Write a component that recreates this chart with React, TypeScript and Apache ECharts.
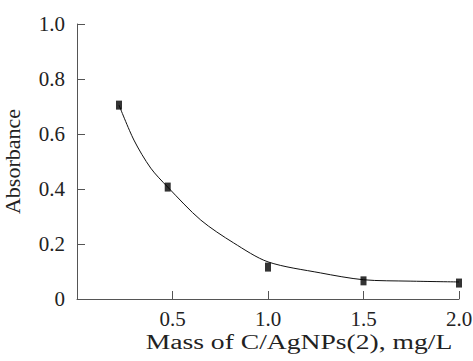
import React, { useEffect, useRef } from "react";
import * as echarts from "echarts";

// measured points (markers)
const massValues = [0.22, 0.475, 1.0, 1.5, 2.0];
const absorbanceValues = [0.705, 0.407, 0.116, 0.066, 0.058];
// fitted curve
const curveMass = [0.22, 0.298, 0.386, 0.475, 0.648, 0.82, 1.0, 1.274, 1.5, 1.744, 2.0];
const curveAbsorbance = [0.705, 0.578, 0.476, 0.407, 0.287, 0.204, 0.135, 0.095, 0.07, 0.065, 0.062];
const xTicks = [0.5, 1.0, 1.5, 2.0];
const yTicks = [0, 0.2, 0.4, 0.6, 0.8, 1.0];
const xTitle = "Mass of C/AgNPs(2), mg/L";
const yTitle = "Absorbance";

export default function App() {
  const ref = useRef<HTMLDivElement>(null);
  useEffect(() => {
    if (!ref.current) return;
    const chart = echarts.init(ref.current, null, { renderer: "svg" });
    const pts = massValues.map((x, i) => [x, absorbanceValues[i]]);
    const curve = curveMass.map((x, i) => [x, curveAbsorbance[i]]);
    const font = "'Liberation Serif', 'Times New Roman', serif";
    chart.setOption({
      animation: false,
      backgroundColor: "#fff",
      grid: { left: 77, right: 14, top: 24, bottom: 62, outerBoundsMode: "none", containLabel: false },
      graphic: [
        {
          type: "text",
          x: 299,
          y: 342,
          scaleX: 1.38,
          style: {
            text: xTitle,
            fontFamily: font,
            fontSize: 20,
            fill: "#222",
            align: "center",
            verticalAlign: "middle",
          },
        },
      ],
      xAxis: {
        type: "value",
        min: 0,
        max: 2,
        interval: 0.5,
        axisLine: { show: true, lineStyle: { color: "#555", width: 1 } },
        axisTick: { show: true, inside: true, length: 8, lineStyle: { color: "#555" } },
        axisLabel: {
          fontFamily: font,
          fontSize: 21,
          color: "#222",
          margin: 9,
          formatter: (v: number) => (xTicks.some((t) => Math.abs(t - v) < 1e-9) ? v.toFixed(1) : ""),
        },
        splitLine: { show: false },
      },
      yAxis: {
        type: "value",
        min: 0,
        max: 1,
        interval: 0.2,
        name: yTitle,
        nameLocation: "middle",
        nameGap: 54,
        nameTextStyle: { fontFamily: font, fontSize: 22, color: "#222" },
        axisLine: { show: true, lineStyle: { color: "#555", width: 1 } },
        axisTick: { show: true, inside: true, length: 8, lineStyle: { color: "#555" } },
        axisLabel: {
          fontFamily: font,
          fontSize: 21,
          color: "#222",
          margin: 12,
          formatter: (v: number) => {
            const t = yTicks.find((y) => Math.abs(y - v) < 1e-9);
            if (t === undefined) return "";
            return t === 0 ? "0" : t.toFixed(1);
          },
        },
        splitLine: { show: false },
      },
      series: [
        {
          type: "line",
          data: curve,
          smooth: 0.3,
          showSymbol: false,
          symbol: "none",
          lineStyle: { color: "#111", width: 1 },
          z: 2,
        },
        {
          type: "scatter",
          data: pts,
          symbol: "rect",
          symbolSize: [6, 9],
          itemStyle: { color: "#000" },
          z: 3,
        },
      ],
    });
    return () => chart.dispose();
  }, []);
  return <div ref={ref} style={{ position: "fixed", left: 0, top: 0, width: 473, height: 361 }} />;
}
